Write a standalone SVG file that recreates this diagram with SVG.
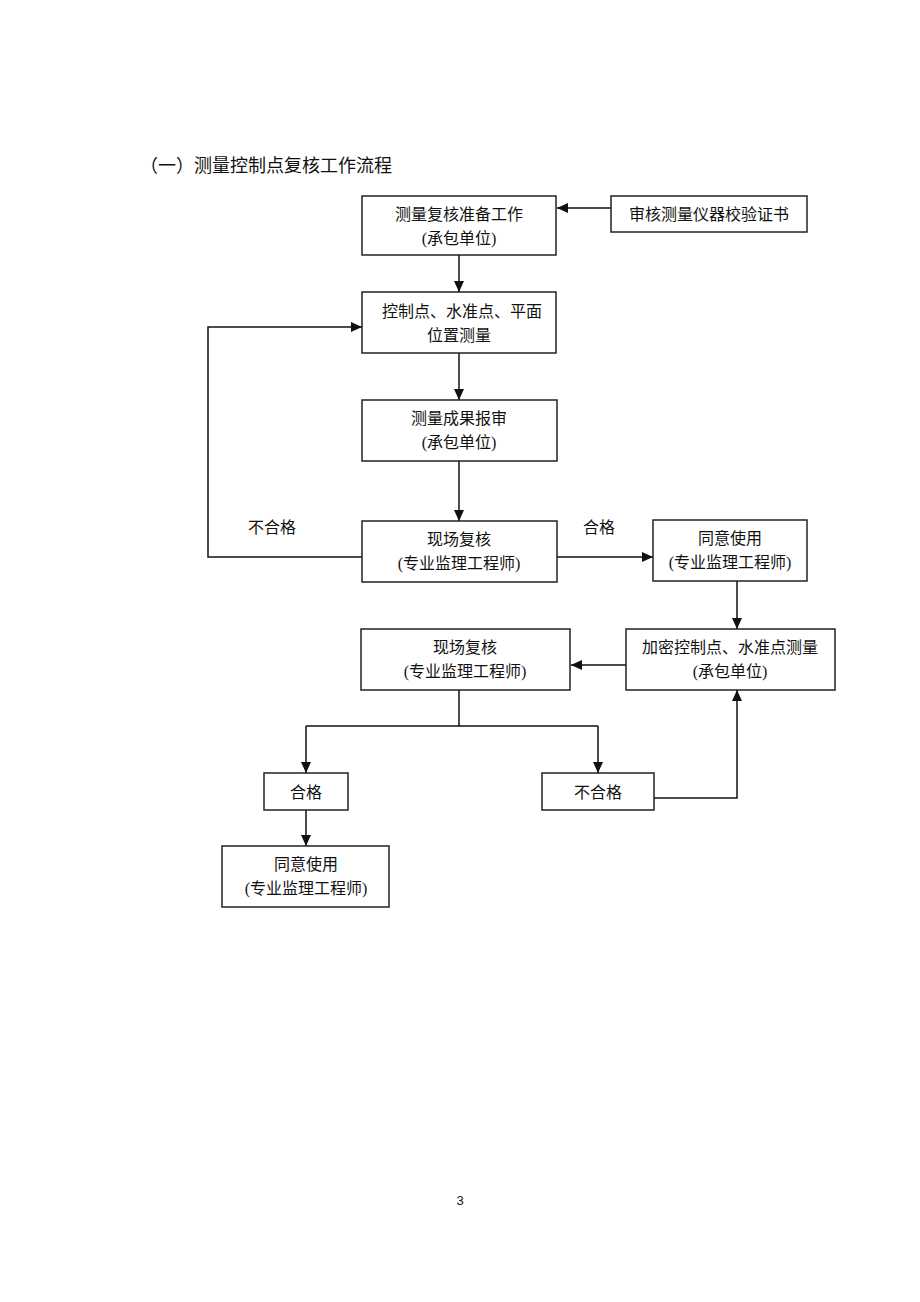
<svg xmlns="http://www.w3.org/2000/svg" width="920" height="1302" viewBox="0 0 920 1302">
<style>
.box{fill:#fff;stroke:#222;stroke-width:1.5}
.t{font-family:"Liberation Serif","Noto Sans CJK SC",serif;font-size:16px;fill:#111;text-anchor:middle;dominant-baseline:central}
.ln{fill:none;stroke:#111;stroke-width:1.5}
.ttl{font-family:"Liberation Serif","Noto Sans CJK SC",serif;font-size:18px;fill:#111}
</style>
<defs>
<marker id="ah" markerUnits="userSpaceOnUse" markerWidth="12" markerHeight="10" refX="11" refY="5" orient="auto">
<path d="M0,0 L11,5 L0,10 Z" fill="#111"/>
</marker>
</defs>
<rect width="920" height="1302" fill="#fff"/>
<text class="ttl" x="140" y="172">（一）测量控制点复核工作流程</text>

<g id="connectors">
<line class="ln" x1="611" y1="208" x2="557" y2="208" marker-end="url(#ah)"/>
<line class="ln" x1="459" y1="255" x2="459" y2="292" marker-end="url(#ah)"/>
<line class="ln" x1="459" y1="353" x2="459" y2="400" marker-end="url(#ah)"/>
<line class="ln" x1="459" y1="461" x2="459" y2="521" marker-end="url(#ah)"/>
<polyline class="ln" points="362,557 208,557 208,327 362,327" marker-end="url(#ah)"/>
<line class="ln" x1="557" y1="557" x2="653" y2="557" marker-end="url(#ah)"/>
<line class="ln" x1="737" y1="581" x2="737" y2="629" marker-end="url(#ah)"/>
<line class="ln" x1="626" y1="665" x2="571" y2="665" marker-end="url(#ah)"/>
<line class="ln" x1="459" y1="690" x2="459" y2="726"/>
<line class="ln" x1="306" y1="726" x2="598" y2="726"/>
<line class="ln" x1="306" y1="726" x2="306" y2="773" marker-end="url(#ah)"/>
<line class="ln" x1="598" y1="726" x2="598" y2="773" marker-end="url(#ah)"/>
<polyline class="ln" points="654,798 737,798 737,690" marker-end="url(#ah)"/>
<line class="ln" x1="306" y1="810" x2="306" y2="846" marker-end="url(#ah)"/>
<text class="t" x="272" y="527">不合格</text>
<text class="t" x="599" y="527">合格</text>
</g>

<g id="n1"><rect class="box" x="362" y="196" width="194" height="59"/>
<text class="t" x="459" y="214">测量复核准备工作</text><text class="t" x="459" y="238">(承包单位)</text></g>
<g id="n2"><rect class="box" x="611" y="196" width="196" height="36"/>
<text class="t" x="709" y="214">审核测量仪器校验证书</text></g>
<g id="n3"><rect class="box" x="362" y="292" width="194" height="61"/>
<text class="t" x="462" y="311">控制点、水准点、平面</text><text class="t" x="459" y="335">位置测量</text></g>
<g id="n4"><rect class="box" x="362" y="400" width="195" height="61"/>
<text class="t" x="459" y="418">测量成果报审</text><text class="t" x="459" y="442">(承包单位)</text></g>
<g id="n5"><rect class="box" x="362" y="521" width="195" height="61"/>
<text class="t" x="459" y="539">现场复核</text><text class="t" x="459" y="563">(专业监理工程师)</text></g>
<g id="n6"><rect class="box" x="653" y="520" width="154" height="61"/>
<text class="t" x="730" y="538">同意使用</text><text class="t" x="730" y="562">(专业监理工程师)</text></g>
<g id="n7"><rect class="box" x="626" y="629" width="209" height="61"/>
<text class="t" x="730" y="647">加密控制点、水准点测量</text><text class="t" x="730" y="671">(承包单位)</text></g>
<g id="n8"><rect class="box" x="361" y="629" width="209" height="61"/>
<text class="t" x="465" y="647">现场复核</text><text class="t" x="465" y="671">(专业监理工程师)</text></g>
<g id="n9"><rect class="box" x="264" y="773" width="84" height="37"/>
<text class="t" x="306" y="792">合格</text></g>
<g id="n10"><rect class="box" x="542" y="773" width="112" height="37"/>
<text class="t" x="598" y="792">不合格</text></g>
<g id="n11"><rect class="box" x="222" y="846" width="167" height="61"/>
<text class="t" x="306" y="864">同意使用</text><text class="t" x="306" y="888">(专业监理工程师)</text></g>
<text x="460" y="1205" font-family="Liberation Sans, sans-serif" font-size="13" text-anchor="middle" fill="#111">3</text>
</svg>
